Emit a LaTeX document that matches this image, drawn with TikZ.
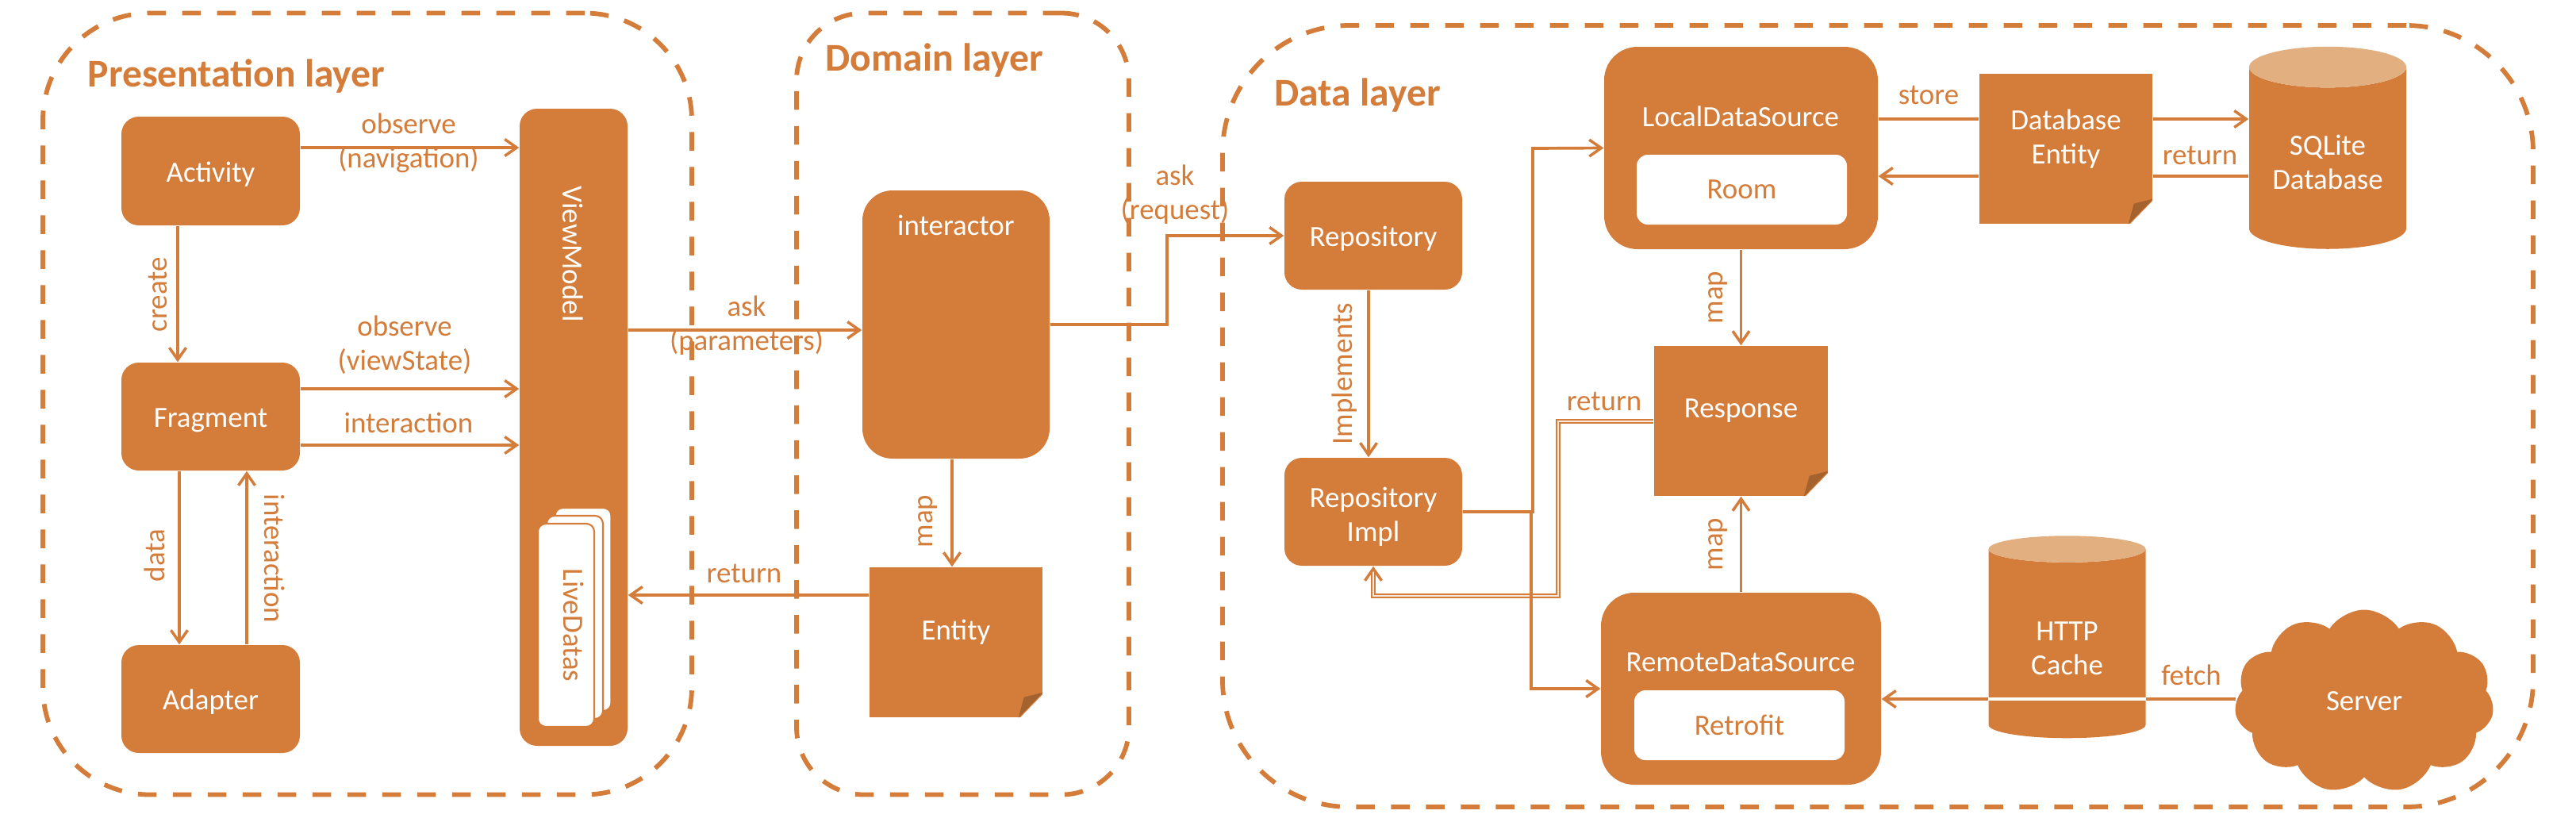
\documentclass[tikz,border=0pt]{standalone}
\usepackage{fontspec}
\setmainfont{Carlito}
\usetikzlibrary{arrows.meta,calc,shapes.geometric,shapes.symbols}
\definecolor{brand}{HTML}{D47C3A}
\definecolor{brandlight}{HTML}{E2AF80}
\definecolor{brandpale}{HTML}{F9E8DA}
\definecolor{branddark}{HTML}{A4632E}

% corner of a note
\newcommand{\notefold}[1]{
  \fill[white] ($(#1.south east)+(-0.31,0.02)$) -- ($(#1.south east)+(0.02,0.02)$) -- ($(#1.south east)+(0.02,-0.32)$) -- cycle;
  \fill[branddark] ($(#1.south east)+(-0.31,0)$) -- ($(#1.south east)+(-0.24,-0.26)$) -- ($(#1.south east)+(0,-0.32)$) -- cycle;
}

\begin{document}
\begin{tikzpicture}[
  y=-1cm,
  font=\fontsize{10.5}{12.2}\selectfont,
  lbl/.style={text=brand, align=center, inner sep=0pt},
  wht/.style={text=white, align=center, inner sep=0pt},
  layer/.style={draw=brand, line width=1.65pt, dash pattern=on 0.235cm off 0.205cm, rounded corners=#1, inner sep=0pt},
  layertitle/.style={font=\fontsize{14.1}{15}\selectfont\bfseries, text=brand, anchor=west, inner sep=0pt},
  block/.style={fill=brand, text=white, align=center, inner sep=0pt, text height=0.33cm, rounded corners=#1},
  block/.default=0.22cm,
  inset/.style={fill=white, text=brand, inner sep=0pt, rounded corners=0.14cm},
  card/.style={fill=white, draw=brand, line width=0.6pt, text=brand, inner sep=0pt, text depth=0.2cm, rounded corners=0.1cm, minimum width=2.56cm, minimum height=0.71cm, rotate=-90},
  note/.style={fill=brand, text=white, align=center, inner sep=0pt, text depth=0.31cm},
  store/.style={cylinder, shape border rotate=90, aspect=0.37, cylinder uses custom fill, cylinder body fill=brand, cylinder end fill=brandlight, text=white, align=center, inner sep=0pt, text height=0.78cm, minimum width=1.98cm, minimum height=2.55cm},
  arrow/.style={-{Straight Barb[length=1.5mm,width=2.1mm,line width=1pt]}, line width=1.05pt, draw=brand},
  link/.style={line width=1.05pt, draw=brand},
  back/.style={-{Straight Barb[length=1.5mm,width=2.1mm,line width=1pt]}, line width=0.42pt, draw=brand, double=brandpale, double distance=0.7pt}
]
\useasboundingbox (0,0) rectangle (32.47,10.35);

% ---------- Layers ----------
\node[layer=1.35cm, minimum width=8.18cm, minimum height=9.85cm] (presentation) at (4.63,5.09) {};
\node[layer=0.85cm, minimum width=4.19cm, minimum height=9.85cm] (domain) at (12.135,5.09) {};
\node[layer=1.6cm, minimum width=16.52cm, minimum height=9.85cm] (data) at (23.67,5.245) {};
\node[layertitle] (presentationtitle) at (1.10,0.96) {Presentation layer};
\node[layertitle] (domaintitle) at (10.40,0.76) {Domain layer};
\node[layertitle] (datatitle) at (16.06,1.20) {Data layer};

% ---------- Presentation layer ----------
\node[block, minimum width=2.25cm, minimum height=1.37cm] (activity) at (2.655,2.155) {Activity};
\node[block, minimum width=2.25cm, minimum height=1.36cm] (fragment) at (2.655,5.25) {Fragment};
\node[block, minimum width=2.25cm, minimum height=1.36cm] (adapter) at (2.655,8.81) {Adapter};
\node[block, minimum width=1.36cm, minimum height=8.03cm] (viewmodel) at (7.23,5.385) {};
\node[wht, rotate=-90] (viewmodellabel) at (7.22,3.20) {ViewModel};
\node[card] (livedatasback) at (7.35,7.68) {};
\node[card] (livedatasmid) at (7.245,7.78) {};
\node[card] (livedatas) at (7.135,7.88) {LiveDatas};

\draw[arrow] (activity.east |- 0,1.86) -- (viewmodel.west |- 0,1.86);
\draw[arrow] (fragment.east |- 0,4.90) -- (viewmodel.west |- 0,4.90);
\draw[arrow] (fragment.east |- 0,5.61) -- (viewmodel.west |- 0,5.61);
\draw[arrow] (activity.south -| 2.24,0) -- (fragment.north -| 2.24,0);
\draw[arrow] (fragment.south -| 2.26,0) -- (adapter.north -| 2.26,0);
\draw[arrow] (adapter.north -| 3.11,0) -- (fragment.south -| 3.11,0);
\node[lbl] (observenav) at (5.15,1.805) {observe\\(navigation)};
\node[lbl] (observestate) at (5.10,4.35) {observe\\(viewState)};
\node[lbl] (interactionvm) at (5.15,5.33) {interaction};
\node[lbl, rotate=90] (createlbl) at (1.99,3.71) {create};
\node[lbl, rotate=90] (datalbl) at (1.95,7.00) {data};
\node[lbl, rotate=-90] (interactionlbl) at (3.46,7.04) {interaction};

% ---------- Domain layer ----------
\node[block=0.38cm, minimum width=2.36cm, minimum height=3.38cm] (interactor) at (12.05,4.09) {};
\node[wht] (interactorlabel) at (12.05,2.84) {interactor};
\node[note, minimum width=2.18cm, minimum height=1.89cm] (entity) at (12.05,8.095) {Entity};
\notefold{entity}

\draw[arrow] (viewmodel.east |- 0,4.16) -- (interactor.west |- 0,4.16);
\draw[arrow] (entity.west |- 0,7.50) -- (viewmodel.east |- 0,7.50);
\draw[arrow] (interactor.south -| 12.00,0) -- (entity.north -| 12.00,0);
\node[lbl] (asklbl) at (9.41,4.105) {ask\\(parameters)};
\node[lbl] (returnentity) at (9.38,7.23) {return};
\node[lbl, rotate=90] (mapentity) at (11.69,6.57) {map};

% ---------- Data layer ----------
\node[block, minimum width=2.24cm, minimum height=1.36cm] (repository) at (17.31,2.97) {Repository};
\node[block, text height=0.8cm, minimum width=2.24cm, minimum height=1.36cm] (impl) at (17.31,6.45) {Repository\\Impl};
\node[block=0.42cm, minimum width=3.45cm, minimum height=2.55cm] (local) at (21.945,1.865) {};
\node[wht] (locallabel) at (21.94,1.47) {LocalDataSource};
\node[inset, minimum width=2.65cm, minimum height=0.88cm] (room) at (21.955,2.39) {Room};
\node[note, minimum width=2.19cm, minimum height=1.89cm] (response) at (21.945,5.305) {Response};
\notefold{response}
\node[block=0.42cm, minimum width=3.53cm, minimum height=2.42cm] (remote) at (21.945,8.68) {};
\node[wht] (remotelabel) at (21.94,8.35) {RemoteDataSource};
\node[inset, minimum width=2.65cm, minimum height=0.88cm] (retrofit) at (21.925,9.14) {Retrofit};
\node[note, minimum width=2.18cm, minimum height=1.89cm] (dbentity) at (26.04,1.875) {Database\\Entity};
\notefold{dbentity}
\node[store] (sqlite) at (29.34,1.995) {SQLite\\Database};
\node[store] (cache) at (26.055,8.115) {HTTP\\Cache};
\node[cloud, cloud puffs=11, cloud puff arc=115, aspect=1.4, fill=brand, text=white, inner sep=0pt, minimum width=3.27cm, minimum height=2.31cm] (server) at (29.80,8.84) {Server};

\draw[back] (response.west |- 0,5.31) -| (19.64,7.51) -| (impl.south);
\draw[arrow] (interactor.east) -| (14.71,2.97) -- (repository.west);
\draw[arrow] (repository.south -| 17.25,0) -- (impl.north -| 17.25,0);
\draw[arrow] (impl.east) -| (19.32,1.87) -- (local.west);
\draw[arrow] (impl.east) -| (19.30,8.68) -- (remote.west);
\draw[arrow] (local.south) -- (response.north);
\draw[arrow] (remote.north) -- (response.south);
\draw[link] (local.east |- 0,1.50) -- (dbentity.west |- 0,1.50);
\draw[arrow] (dbentity.east |- 0,1.50) -- (sqlite.west |- 0,1.50);
\draw[link] (sqlite.west |- 0,2.22) -- (dbentity.east |- 0,2.22);
\draw[arrow] (dbentity.west |- 0,2.22) -- (local.east |- 0,2.22);
\draw[link] (server.west |- 0,8.81) -- (cache.east |- 0,8.81);
\draw[link, white] (cache.east |- 0,8.81) -- (cache.west |- 0,8.81);
\draw[arrow] (cache.west |- 0,8.81) -- (remote.east |- 0,8.81);
\node[lbl] (askrequest) at (14.81,2.455) {ask\\(request)};
\node[lbl, rotate=90] (implementslbl) at (16.95,4.71) {Implements};
\node[lbl] (returnresponse) at (20.22,5.06) {return};
\node[lbl, rotate=90] (maplocal) at (21.65,3.75) {map};
\node[lbl, rotate=90] (mapremote) at (21.65,6.86) {map};
\node[lbl] (storelbl) at (24.31,1.20) {store};
\node[lbl] (returndb) at (27.73,1.96) {return};
\node[lbl] (fetchlbl) at (27.62,8.51) {fetch};

\end{tikzpicture}
\end{document}
